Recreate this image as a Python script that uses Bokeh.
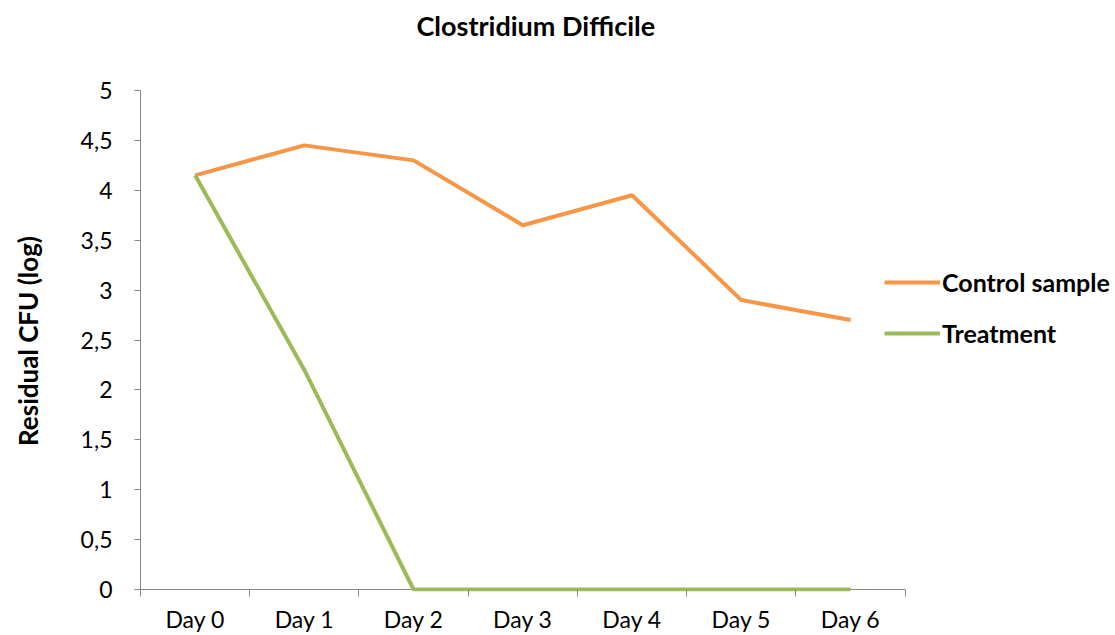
from bokeh.plotting import figure
from bokeh.models import (Range1d, FixedTicker, CustomJSTickFormatter, Legend, LegendItem, Title)
from bokeh.embed import file_html
from bokeh.resources import INLINE

days = ["Day 0", "Day 1", "Day 2", "Day 3", "Day 4", "Day 5", "Day 6"]
control = [4.15, 4.45, 4.30, 3.65, 3.95, 2.90, 2.70]
treatment = [4.15, 2.20, 0.0, 0.0, 0.0, 0.0, 0.0]
y_ticks = [0, 0.5, 1, 1.5, 2, 2.5, 3, 3.5, 4, 4.5, 5]

FONT = "Lato"
ORANGE = "#F79646"
GREEN = "#9BBB59"
AXIS = "#868686"

n = len(days)
xpos = [i + 0.5 for i in range(n)]
Y0 = -0.02

p = figure(width=1115, height=635, output_backend="svg", toolbar_location=None,
           x_range=Range1d(0, 8.88), y_range=Range1d(Y0, 5))
p.min_border_left = 140
p.min_border_right = 5
p.min_border_top = 90
p.min_border_bottom = 40
p.outline_line_color = None
p.grid.visible = False
p.background_fill_color = "white"
p.border_fill_color = "white"

p.title = Title(text="Clostridium Difficile", align="left", offset=276,
                text_font=FONT, text_font_size="27px", text_font_style="bold",
                text_color="black")
# empty spacer title pushes the real title upward
p.add_layout(Title(text=" ", text_font_size="29px"), "above")

# x axis line drawn only across the category span
p.segment(x0=[0], x1=[n], y0=[0], y1=[0], line_color=AXIS, line_width=1)

r1 = p.line(xpos, control, line_color=ORANGE, line_width=4)
r2 = p.line(xpos, treatment, line_color=GREEN, line_width=4)

# x axis
xa = p.xaxis[0]
xa.ticker = FixedTicker(ticks=xpos, minor_ticks=list(range(n + 1)))
xa.major_label_overrides = {x: d for x, d in zip(xpos, days)}
xa.major_tick_line_color = None
xa.minor_tick_line_color = AXIS
xa.minor_tick_out = 5
xa.minor_tick_in = 2
xa.axis_line_color = None
xa.major_label_text_font = FONT
xa.major_label_text_font_size = "23px"
xa.major_label_text_color = "black"
xa.major_label_standoff = 7

# y axis
ya = p.yaxis[0]
ya.ticker = FixedTicker(ticks=y_ticks, minor_ticks=[])
ya.formatter = CustomJSTickFormatter(code="return tick.toString().replace('.', ',');")
ya.major_tick_line_color = AXIS
ya.major_tick_out = 6
ya.major_tick_in = 0
ya.minor_tick_line_color = None
ya.axis_line_color = AXIS
ya.major_label_text_font = FONT
ya.major_label_text_font_size = "23px"
ya.major_label_text_color = "black"
ya.major_label_standoff = 22
ya.axis_label = "Residual CFU (log)"
ya.axis_label_text_font = FONT
ya.axis_label_text_font_size = "26px"
ya.axis_label_text_font_style = "bold"
ya.axis_label_text_color = "black"
ya.axis_label_standoff = 34

legend = Legend(items=[LegendItem(label="Control sample", renderers=[r1]),
                       LegendItem(label="Treatment", renderers=[r2])],
                location=(744, 243), padding=0, margin=0, border_line_color=None,
                background_fill_alpha=0, glyph_width=56, glyph_height=20,
                label_height=28, spacing=21, label_standoff=2,
                label_text_font=FONT, label_text_font_size="25px",
                label_text_font_style="bold", label_text_color="black")
p.add_layout(legend)

open("out.html", "w").write(file_html(p, INLINE))
